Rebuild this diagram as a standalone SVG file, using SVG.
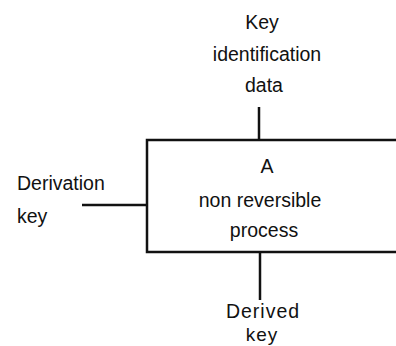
<svg xmlns="http://www.w3.org/2000/svg" width="396" height="346" viewBox="0 0 396 346">
<style>
text{font-family:"Liberation Sans",Arial,sans-serif;font-size:19.5px;fill:#111}
.c{text-anchor:middle}
.ln{stroke:#111;stroke-width:2.5;fill:none}
</style>
<rect width="396" height="346" fill="#fff"/>
<g id="connectors">
<line class="ln" x1="259" y1="107" x2="259" y2="140"/>
<line class="ln" x1="82" y1="205" x2="147" y2="205"/>
<line class="ln" x1="260" y1="252" x2="260" y2="300"/>
</g>
<g id="process">
<path class="ln" d="M400 140 H147 V252 H400"/>
<text class="c" x="267" y="173">A</text>
<text class="c" x="260" y="207">non reversible</text>
<text class="c" x="264" y="237">process</text>
</g>
<g id="key-identification-data">
<text class="c" x="262" y="29">Key</text>
<text class="c" x="267" y="61">identification</text>
<text class="c" x="264" y="92">data</text>
</g>
<g id="derivation-key">
<text x="17" y="190">Derivation</text>
<text x="17" y="223">key</text>
</g>
<g id="derived-key">
<text class="c" x="263" y="318" letter-spacing="1">Derived</text>
<text class="c" x="262" y="341" letter-spacing="1" style="font-size:19px">key</text>
</g>
</svg>
